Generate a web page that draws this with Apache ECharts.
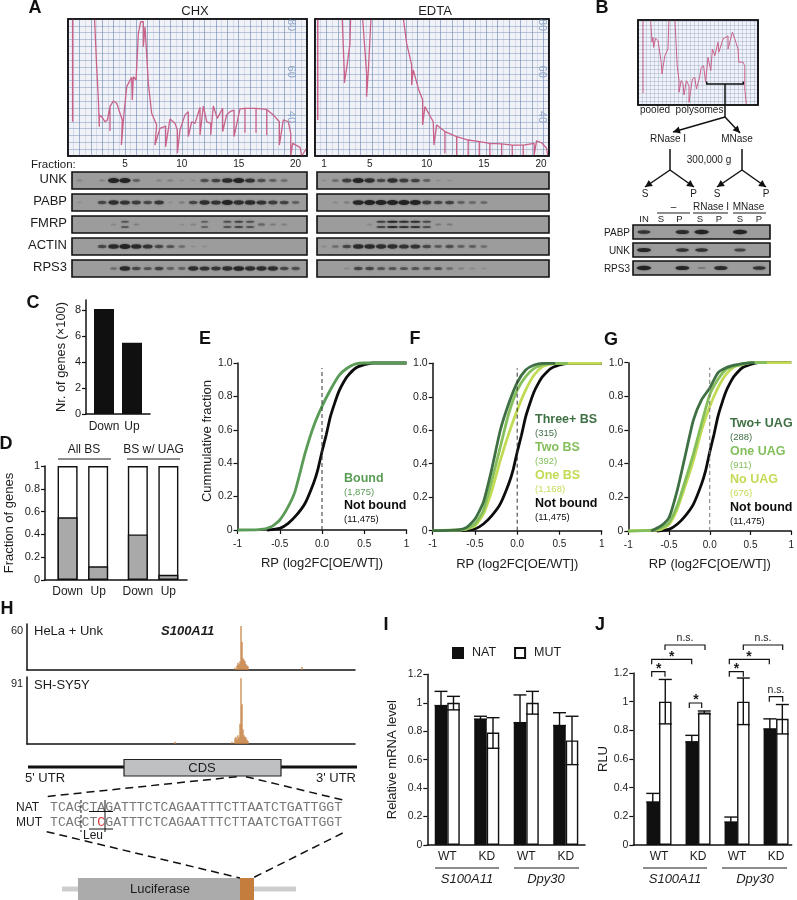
<!DOCTYPE html>
<html><head><meta charset="utf-8">
<style>html,body{margin:0;padding:0;background:#fff}#c{width:797px;height:900px}</style>
<script src="https://cdn.jsdelivr.net/npm/echarts@6/dist/echarts.min.js"></script>
</head><body><div id="c"></div>
<script>
// ---------- DATA ----------
const chxTrace=[[2.28,90],[2.52,63.1],[2.67,48.5],[2.75,36.8],[2.75,42],[2.96,41.2],[3.25,39],[3.46,39.8],[3.69,45.6],[3.69,35],[3.69,45.6],[3.98,48.1],[4.28,47.1],[4.57,42.7],[4.77,39.8],[4.69,28.8],[4.92,42.7],[5.16,54.4],[5.59,58.5],[5.65,48.5],[5.74,58.7],[5.98,57.3],[6.18,77.7],[6.39,82.8],[6.62,82.8],[6.62,71.9],[6.77,80.6],[7.06,55.8],[7.35,42.7],[7.79,37.6],[7.64,28.8],[8.08,36.1],[8.58,37.1],[8.58,28.1],[8.96,40.2],[9.4,38.3],[9.61,35.4],[9.61,25.2],[9.84,35.4],[10.28,42],[10.57,43.4],[10.57,32.5],[10.87,39],[11.16,38.3],[11.6,45.3],[11.6,33.2],[11.89,45.9],[12.19,39],[12.54,38.3],[12.54,33.2],[12.77,45.9],[13.12,40.5],[13.59,44.9],[13.59,34.7],[13.94,42],[14.24,43.4],[14.59,44.1],[14.59,32.5],[15.11,44.6],[15.55,44.9],[15.55,34.2],[15.55,44.9],[16.52,44.9],[16.52,34.2],[16.52,44.9],[17.46,44.4],[17.46,33.2],[17.46,44.4],[18.04,42],[18.57,39],[18.57,28.8],[18.92,39.8],[19.36,39],[19.57,33.9],[19.57,24],[19.74,29.5],[20.39,27.8],[20.53,24],[20.97,27.4]];
const chxFirstSpike=[[0.41,90],[0.41,39]];
const edtaSpike=[[0.24,90],[0.24,39.8]];
const edtaTrace=[[2.34,90],[2.57,60.2],[2.57,56],[2.77,62.4],[3.06,73],[3.15,90],[4.09,90],[4.52,60.2],[4.52,50],[4.67,61],[4.96,90],[7.59,90],[8.03,73.3],[8.47,63.9],[8.47,55.1],[8.61,61.7],[9.05,53.6],[9.43,48.5],[9.43,37.6],[9.63,45.6],[10.36,39],[10.42,28.8],[10.66,37.6],[11.38,34.7],[11.38,25.2],[11.38,34.7],[12.41,32.5],[12.41,24.4],[12.41,32.5],[13.42,31],[13.42,24.4],[13.42,31],[14.39,30.3],[14.39,24.4],[14.39,30.3],[15.32,29.5],[15.32,24.4],[15.32,29.5],[16.35,29.3],[16.35,24.4],[16.35,29.3],[17.28,28.8],[17.28,24.4],[17.28,28.8],[18.24,28.8],[18.24,24.4],[18.24,28.8],[19.2,29.5],[19.2,24.4],[19.41,30.6],[19.85,29.8],[20.29,27.4],[20.4,24]];
const poolSpike=[[1.25,21.5],[1.25,3]];
const poolTrace=[[3.1,22],[3.5,15.7],[3.75,16.9],[3.9,14.4],[4.4,16.7],[5,16.1],[5.8,10.7],[6,7.75],[6.7,12.3],[7.5,14],[7.75,22],[9.2,22],[9.8,9.8],[10.25,6.1],[10.25,3.2],[10.8,6.1],[11.25,5.25],[11.5,2.5],[12.1,6.1],[12.75,4.8],[12.75,0.67],[13.6,6.5],[14.2,6.9],[14.6,4],[15.4,6.9],[15.8,9.4],[16.4,9.8],[16.9,5.7],[17.5,11.9],[18.2,8.6],[18.6,14],[19.2,12.3],[20,15.7],[20.2,13.2],[21.25,16.5],[22.5,17.3],[22.5,14],[23.6,18.2],[24.2,16.5],[25,14],[25.2,10.7],[26.25,10.7],[26.7,9.8],[26.7,4],[27.1,0]];

const chxUnk=[.12,0,.15,1,1,.4,0,.12,.18,.06,.03,.55,.65,.9,1,.8,.55,.4,.3,0];
const chxPabp=[.04,0,.6,.85,.8,.7,.6,.75,.05,.2,.6,.85,.8,1,.85,.9,.8,.7,.65,.4];
const chxFmrp=[0,0,0,.1,.5,.15,0,0,0,.05,.12,.4,0,.55,.65,.55,.35,.2,.15,0];
const chxActin=[0,0,.6,.9,1,.9,.8,.6,.5,.3,.05,.05,0,0,0,0,0,0,0,0];
const chxRps3=[0,0,0,.3,.9,.6,.5,.65,.4,.4,.85,.8,.75,.85,.95,.85,.85,.85,.6,.55];
const edtaUnk=[.05,.3,.7,1,.85,.6,.85,.7,.65,.4,.05,.05,0,0,0,0,0,0,0,0];
const edtaPabp=[0,.1,.2,.95,1,1,1,1,1,.7,.6,.65,.4,.35,.35,0,0,0,0,0];
const edtaFmrp=[0,0,0,0,.1,.7,.95,.85,.85,.6,.2,.2,0,0,0,0,0,0,0,0];
const edtaActin=[.1,.3,.6,.9,.9,.85,.85,.8,.8,.6,.45,.55,.4,.4,.3,0,0,0,0,0];
const edtaRps3=[0,0,.1,.6,.6,.5,.5,.5,.5,.45,.5,.3,.15,.1,.05,0,0,0,0,0];
const fractionLabelsChx=[5,10,15,20];
const fractionLabelsEdta=[1,5,10,15,20];
const blotNames=['UNK','PABP','FMRP','ACTIN','RPS3'];
const poolPabp=[.8,0,.9,1,0,1,0];
const poolUnk=[.95,0,.8,.8,0,.65,0];
const poolRps3=[1,0,.95,.2,.9,0,.8];
const poolLanes=['IN','S','P','S','P','S','P'];

const cCats=['Down','Up'];
const cVals=[8.1,5.5];
const cTicks=[0,2,4,6,8];
const dCats=['Down','Up','Down','Up'];
const dVals=[.55,.12,.40,.045];
const dTotal=[1,1,1,1];

const notBound=[[-.65,0],[-.5,.01],[-.4,.04],[-.3,.09],[-.2,.16],[-.1,.28],[-.05,.36],[0,.47],[.05,.57],[.1,.68],[.15,.76],[.2,.83],[.25,.88],[.3,.92],[.4,.97],[.5,.99],[.6,1],[1,1]];
const bound=[[-1,0],[-.75,.002],[-.6,.02],[-.5,.06],[-.4,.14],[-.32,.23],[-.2,.46],[-.1,.62],[0,.74],[.1,.84],[.2,.925],[.3,.97],[.4,.995],[.5,1],[1,1]];
const threeBS=[[-1,0],[-.7,.005],[-.6,.02],[-.5,.07],[-.4,.17],[-.3,.37],[-.2,.60],[-.1,.76],[0,.885],[.1,.96],[.2,.99],[.3,1],[.45,1]];
const twoBS=[[-1,0],[-.7,.005],[-.6,.01],[-.5,.04],[-.4,.12],[-.3,.30],[-.2,.50],[-.1,.70],[0,.84],[.1,.92],[.2,.97],[.3,.99],[.4,1],[.6,1]];
const oneBS=[[-1,0],[-.7,.005],[-.6,.01],[-.5,.03],[-.4,.10],[-.3,.24],[-.2,.42],[-.1,.58],[0,.72],[.1,.84],[.2,.93],[.3,.98],[.4,.995],[.5,1],[1,1]];
const twoUAG=[[-.72,0],[-.6,.03],[-.5,.08],[-.4,.24],[-.3,.45],[-.2,.66],[-.1,.78],[0,.85],[.1,.94],[.2,.97],[.3,.985],[.4,.995],[.55,1]];
const oneUAG=[[-1,0],[-.7,.005],[-.6,.02],[-.5,.05],[-.4,.15],[-.3,.30],[-.2,.46],[-.1,.64],[0,.81],[.1,.90],[.2,.96],[.3,.98],[.4,.99],[.5,1],[.7,1]];
const noUAG=[[-1,0],[-.7,.005],[-.6,.01],[-.5,.04],[-.4,.13],[-.3,.27],[-.2,.42],[-.1,.60],[0,.74],[.1,.85],[.2,.93],[.3,.975],[.4,.99],[.5,1],[1,1]];
const zeroLine=[[0,0],[0,.97]];

const helaCov=[[208,3],[210,6],[211,10],[212,8],[213,12],[214,60],[215,38],[216,16],[217,14],[218,12],[219,8],[220,6],[221,5],[275,4]];
const shsyCov=[[148,3],[205,3],[208,8],[209,10],[210,6],[211,12],[212,9],[213,28],[214,91],[215,55],[216,20],[217,12],[218,10],[219,9],[220,6],[221,4]];
const seqNatA='TCAGCTAGATTTCTCAGAATTTCTTAATCTGATTGGT';
const seqMutA='TCAGCT', seqMutC='C', seqMutB='GATTTCTCAGAATTTCTTAATCTGATTGGT';

const iCats=['WT','KD','WT','KD'];
const iNat=[.98,.885,.86,.84];
const iMut=[1,.79,1,.735];
const iNatErr=[[.98,1.08],[.885,.905],[.86,1.055],[.84,.93]];
const iMutErr=[[.95,1.045],[.68,.895],[.92,1.08],[.565,.905]];
const jCats=['WT','KD','WT','KD'];
const jNat=[.30,.72,.16,.81];
const jMut=[1,.925,1,.88];
const jNatErr=[[.30,.36],[.72,.765],[.16,.195],[.81,.88]];
const jMutErr=[[.845,1.155],[.915,.935],[.84,1.165],[.775,.98]];

// ---------- HELPERS ----------
const FONT='"Liberation Sans",Arial,sans-serif', INK='#1c1c1c';
const grid=[],xAxis=[],yAxis=[],series=[],graphic=[];
const hidden=(o)=>Object.assign({type:'value',show:false},o);
function addPanel(l,t,r,b,gx,xa,ya){const i=grid.length;
 grid.push(Object.assign({left:l,top:t,width:r-l,height:b-t,containLabel:false},gx||{}));
 xAxis.push(Object.assign({gridIndex:i},xa));yAxis.push(Object.assign({gridIndex:i,nameMoveOverlap:false},ya));return i;}
function T(x,y,text,o){o=o||{};graphic.push({type:'text',x,y,z:100,rotation:o.rot||0,style:{text,fill:o.fill||INK,font:(o.style||'')+' '+(o.weight||'')+' '+(o.size||11)+'px '+(o.family||FONT),align:o.align||'center',verticalAlign:'middle',rich:o.rich}});}
function L(pts,o){o=o||{};graphic.push({type:'polyline',z:100,shape:{points:pts},style:{stroke:o.stroke||INK,lineWidth:o.w||1.2,fill:null,lineDash:o.dash||null}});}
function R(x,y,w,h,fill,o){o=o||{};graphic.push({type:'rect',z:o.z||99,shape:{x,y,width:w,height:h},style:{fill,stroke:o.stroke||null,lineWidth:o.w||0}});}
function arrow(x0,y0,x1,y1){L([[x0,y0],[x1,y1]],{w:1.5,stroke:'#111'});const a=Math.atan2(y1-y0,x1-x0),s=7,h=3.6;
 graphic.push({type:'polygon',z:100,shape:{points:[[x1,y1],[x1-s*Math.cos(a)+h*Math.sin(a),y1-s*Math.sin(a)-h*Math.cos(a)],[x1-s*Math.cos(a)-h*Math.sin(a),y1-s*Math.sin(a)+h*Math.cos(a)]]},style:{fill:'#111'}});}
const axLine={onZero:false,lineStyle:{color:'#111',width:1.5}};
const tick={show:true,length:4,inside:false,lineStyle:{color:'#111',width:1.2}};
const lab=(s,m)=>({color:INK,fontSize:s||10,fontFamily:FONT,margin:m||5});
const nameTxt=(s)=>({color:INK,fontSize:s||12.5,fontFamily:FONT});

// paper charts
function paper(l,t,r,b,xMax,yMin,yMax,fine){
 const maj=fine?'rgba(115,140,185,.3)':'rgba(105,130,175,.6)',min=fine?'rgba(110,140,190,.2)':'rgba(130,150,190,.25)';
 const i=addPanel(l,t,r,b,{show:true,backgroundColor:'#f0f2f7',borderColor:'#111',borderWidth:1.6},
  {type:'value',min:0,max:xMax,interval:1,axisLine:{show:false},axisTick:{show:false},axisLabel:{show:false},minorTick:{show:!fine,splitNumber:2,length:0},splitLine:{show:true,lineStyle:{color:maj,width:1}},minorSplitLine:{show:!fine,lineStyle:{color:min,width:1}}},
  {type:'value',min:yMin,max:yMax,interval:fine?1:3,axisLine:{show:false},axisTick:{show:false},axisLabel:{show:false},splitLine:{show:true,lineStyle:{color:fine?maj:'rgba(105,130,175,.42)',width:1}}});
 R(l,t,r-l,b-t,null,{stroke:'#111',w:1.6,z:98});
 return i;
}
function trace(i,d,w){series.push({type:'line',xAxisIndex:i,yAxisIndex:i,data:d,symbol:'none',lineStyle:{color:'#c9628a',width:w||1.3},clip:true,silent:true,z:3});}
let p=paper(68,19,307,156,21,24,84,false);trace(p,chxTrace);trace(p,chxFirstSpike,1.5);
p=paper(315,19,549,156,20.5,24,84,false);trace(p,edtaTrace);trace(p,edtaSpike,1.5);
p=paper(638,20,758,105,30,0,21.25,true);trace(p,poolTrace,1);trace(p,poolSpike,1);
[[290.7,25,'80'],[290.7,71.7,'60'],[290.7,117,'40'],[541.7,25,'80'],[541.7,71.7,'60'],[541.7,117,'40']].forEach(a=>T(a[0],a[1],a[2],{rot:-Math.PI/2,fill:'#8ea6c8',size:11}));

// blots
function blot(l,t,r,b,xMin,xMax,vals,o){o=o||{};
 const xa=o.labels?{type:'value',position:'top',min:xMin,max:xMax,axisLine:{show:false},axisTick:{show:false},splitLine:{show:false},
   axisLabel:{color:INK,fontSize:10,fontFamily:FONT,margin:3,customValues:o.labels,showMinLabel:true,showMaxLabel:true}}:hidden({min:xMin,max:xMax});
 const i=addPanel(l,t,r,b,{show:true,backgroundColor:'#9c9c9c',borderColor:'#111',borderWidth:1.6},xa,hidden({min:0,max:1,splitLine:{show:false}}));
 const k=o.scale||1,data=[];
 vals.forEach((v,n)=>{if(!v)return;
   const rows=o.double&&v>.35?[.36,.66]:[.5];
   rows.forEach(y=>data.push({value:[n+1,y],symbolSize:[(5+6*v)*k,(rows.length>1?2:(1.4+3.4*v))*(o.hk||1)],itemStyle:{opacity:Math.min(1,.08+.9*Math.pow(v,1.2))}}));});
 series.push({type:'scatter',xAxisIndex:i,yAxisIndex:i,data,symbol:'circle',silent:true,z:3,itemStyle:{color:'#222',shadowBlur:2,shadowColor:'rgba(30,30,30,.6)'}});
}
const rowsY=[[172,189],[194,211],[216,233],[238,255],[260,277]];
[chxUnk,chxPabp,chxFmrp,chxActin,chxRps3].forEach((v,n)=>blot(72,rowsY[n][0],307,rowsY[n][1],.35,21,v,{labels:n==0?fractionLabelsChx:null,double:n==2}));
[edtaUnk,edtaPabp,edtaFmrp,edtaActin,edtaRps3].forEach((v,n)=>blot(317,rowsY[n][0],549,rowsY[n][1],.39,20.7,v,{labels:n==0?fractionLabelsEdta:null,double:n==2}));
blotNames.forEach((s,n)=>T(67,(rowsY[n][0]+rowsY[n][1])/2-1,s,{align:'right',size:13}));
T(31,165,'Fraction:',{align:'left',size:11.5});
T(195,11,'CHX',{size:13});T(435,11,'EDTA',{size:13});
[[poolPabp,225,239],[poolUnk,243,257],[poolRps3,261,275]].forEach(a=>blot(633,a[1],770,a[2],.43,7.56,a[0],{scale:1.3,hk:.9}));
[['PABP',233],['UNK',251],['RPS3',269.5]].forEach(a=>T(630,a[1],a[0],{align:'right',size:10}));
poolLanes.forEach((s,n)=>T([644,661,679.5,700,719,740,759][n],219.5,s,{size:9.5}));
T(673.5,207,'–',{size:10});T(711,207,'RNase I',{size:10});T(748.5,207,'MNase',{size:10});
L([[657,213],[690,213]]);L([[693,213],[728,213]]);L([[733,213],[766,213]]);
T(640,110.5,'pooled  polysomes',{align:'left',size:10});
L([[706.7,81.5],[706.7,84],[743.3,84],[743.3,81.5]],{w:1.5,stroke:'#111'});
L([[725,84],[725,117]],{w:1.5,stroke:'#111'});
arrow(725,117,673,132);arrow(725,117,740,133);
T(668,139.5,'RNase I',{size:10});T(737,139.5,'MNase',{size:10});T(709,160,'300,000 g',{size:10});
[[670,645,694],[742,717,766]].forEach(a=>{L([[a[0],149],[a[0],170]],{w:1.5,stroke:'#111'});arrow(a[0],170,a[1],187);arrow(a[0],170,a[2],187);});
[[645,'S'],[693.5,'P'],[717,'S'],[766,'P']].forEach(a=>T(a[0],194.5,a[1],{size:10}));

// C
const iC=addPanel(86,300,150,414,null,
 {type:'value',min:-.643,max:1.643,axisLine:{...axLine},axisTick:{show:false},splitLine:{show:false},axisLabel:{...lab(12,7),customValues:[0,1],formatter:v=>cCats[v]}},
 {type:'value',min:0,max:8.8,axisLine:{...axLine},axisTick:{...tick,customValues:cTicks},splitLine:{show:false},axisLabel:{...lab(11),customValues:cTicks},name:'Nr. of genes (×100)',nameLocation:'middle',nameGap:18,nameTextStyle:nameTxt(12.8)});
series.push({type:'bar',xAxisIndex:iC,yAxisIndex:iC,barWidth:20,data:cVals.map((v,n)=>[n,v]),itemStyle:{color:'#101010'},silent:true});

// D
const dSlots=[0,1,2.3,3.3];
const iD=addPanel(45,466,187,580,null,
 {type:'value',min:-.74,max:3.91,axisLine:{...axLine},axisTick:{show:false},splitLine:{show:false},axisLabel:{...lab(12,6),customValues:dSlots,formatter:v=>dCats[dSlots.indexOf(v)]}},
 {type:'value',min:0,max:1,interval:.2,axisLine:{...axLine},axisTick:tick,splitLine:{show:false},axisLabel:lab(11),name:'Fraction of genes',nameLocation:'middle',nameGap:29.5,nameTextStyle:nameTxt(13)});
const bord={borderColor:'#111',borderWidth:1.4};
series.push({type:'bar',xAxisIndex:iD,yAxisIndex:iD,barGap:'-100%',barWidth:20,data:dTotal.map((v,n)=>[dSlots[n],v]),itemStyle:{color:'#fff',...bord},silent:true});
series.push({type:'bar',xAxisIndex:iD,yAxisIndex:iD,barGap:'-100%',barWidth:20,data:dVals.map((v,n)=>[dSlots[n],v]),itemStyle:{color:'#a9a9a9',...bord},silent:true});
T(84,450,'All BS',{size:12});T(153.5,450,'BS w/ UAG',{size:12});
L([[58,459],[111,459]]);L([[127,459],[180,459]]);

// E F G
function cdf(l,r,t,b,lines,dash){
 const i=addPanel(l,t,r,b,null,
  {type:'value',nameMoveOverlap:false,min:-1,max:1,interval:.5,axisLine:{...axLine},axisTick:tick,splitLine:{show:false},axisLabel:{...lab(10,9),formatter:v=>v==0?'0.0':String(v)},name:'RP (log2FC[OE/WT])',nameLocation:'middle',nameGap:27,nameTextStyle:nameTxt(13)},
  {type:'value',min:0,max:1,interval:.2,axisLine:{...axLine},axisTick:tick,splitLine:{show:false},axisLabel:{...lab(10.5),formatter:v=>v==0?'0':v.toFixed(1)}});
 lines.forEach(a=>series.push({type:'line',xAxisIndex:i,yAxisIndex:i,data:a[0],symbol:'none',smooth:.2,clip:false,silent:true,lineStyle:{color:a[1],width:2.8}}));
 series.push({type:'line',xAxisIndex:i,yAxisIndex:i,data:zeroLine,symbol:'none',clip:false,silent:true,z:4,lineStyle:{color:dash||'#333',width:1,type:[4,3]}});
}
const cBound='#5a9c57',c3='#3f7044',c2='#84bf5c',c1='#c2db55',cK='#0c0c0c';
cdf(237.5,406.5,363,530,[[notBound,cK],[bound,cBound]]);
cdf(432.7,601.7,363.3,530.7,[[notBound,cK],[oneBS,c1],[twoBS,c2],[threeBS,c3]]);
cdf(628.3,796.7,362.7,531,[[notBound,cK],[noUAG,c1],[oneUAG,c2],[twoUAG,c3]],'#777');
T(207,441,'Cummulative fraction',{rot:Math.PI/2,size:13});
function legendBlock(x,items){items.forEach(a=>{T(x,a[0],a[1],{align:'left',weight:'bold',size:12.5,fill:a[3]});T(x,a[0]+13,a[2],{align:'left',size:9.5,fill:a[3]});});}
legendBlock(344,[[479,'Bound','(1,875)',cBound],[506,'Not bound','(11,475)',cK]]);
legendBlock(535,[[420,'Three+ BS','(315)',c3],[448,'Two BS','(392)',c2],[476,'One BS','(1,168)',c1],[504,'Not bound','(11,475)',cK]]);
legendBlock(730,[[424,'Two+ UAG','(288)',c3],[452,'One UAG','(911)',c2],[480,'No UAG','(676)',c1],[508,'Not bound','(11,475)',cK]]);

// H
function track(t,b,yMax,d){const i=addPanel(27,t,355,b,null,
 {type:'value',min:0,max:328,axisLine:{...axLine},axisTick:{show:false},axisLabel:{show:false},splitLine:{show:false}},
 {type:'value',min:0,max:yMax,axisLine:{...axLine},axisTick:{show:false},axisLabel:{show:false},splitLine:{show:false}});
 series.push({type:'bar',xAxisIndex:i,yAxisIndex:i,data:d,barWidth:1.2,itemStyle:{color:'#c47d3c'},silent:true});}
track(624,670,62.7,helaCov);track(677,744,92.8,shsyCov);
T(17,631,'60',{size:11});T(34,631,'HeLa + Unk',{align:'left',size:13});T(161,631,'S100A11',{align:'left',size:13,weight:'bold',style:'italic'});
T(17,684,'91',{size:11});T(34,685,'SH-SY5Y',{align:'left',size:13});
R(28,765.5,329,3,'#111');
R(124,759.5,157,16.5,'#bfc0c2',{stroke:'#222',w:1.2,z:100});
T(202,768,'CDS',{size:13});T(25,778.5,"5' UTR",{align:'left',size:13});T(356,778.5,"3' UTR",{align:'right',size:13});
const dsh={w:1.5,dash:[8,5],stroke:'#111'};
L([[236.7,776.7],[45,796.7]],dsh);L([[246,776.7],[343,800]],dsh);L([[46.7,831.7],[240,878]],dsh);L([[342.7,833],[252.7,878]],dsh);
const mono='"Liberation Mono",monospace';
T(16,807.5,'NAT',{align:'left',size:12});T(16,823,'MUT',{align:'left',size:12});
T(50,807.5,seqNatA,{align:'left',size:13.17,family:mono,fill:'#777'});
T(50,823,'{a|'+seqMutA+'}{r|'+seqMutC+'}{a|'+seqMutB+'}',{align:'left',size:13.17,family:mono,fill:'#777',rich:{a:{fill:'#777',font:'13.17px '+mono},r:{fill:'#d8343a',font:'13.17px '+mono}}});
L([[81,800],[81,832]],{w:1,dash:[3,2],stroke:'#111'});L([[105,800],[105,832]],{w:1,stroke:'#111'});
L([[89,811.5],[113,811.5]],{w:1,stroke:'#111'});L([[89,829],[113,829]],{w:1,stroke:'#111'});
T(93,835.5,'Leu',{size:12});
R(62,886.5,234,5,'#cdcdcd');R(78,878,162,22,'#ababab');R(240,878,14,22,'#c47d3c');
T(160,889,'Luciferase',{size:13});

// I J
function bars(l,r,t,b,xMin,xMax,cats,nat,mut,natE,mutE,yName,gap){
 const slots=cats.map((c,n)=>n);
 const i=addPanel(l,t,r,b,null,
  {type:'value',min:xMin,max:xMax,axisLine:{...axLine},axisTick:{show:false},splitLine:{show:false},axisLabel:{...lab(12,6),customValues:slots,formatter:v=>cats[v]}},
  {type:'value',min:0,max:1.2,interval:.2,axisLine:{...axLine},axisTick:tick,splitLine:{show:false},axisLabel:lab(10.5),name:yName,nameLocation:'middle',nameGap:gap,nameTextStyle:nameTxt(13)});
 const w=12.5;
 series.push({name:'NAT',type:'bar',xAxisIndex:i,yAxisIndex:i,barWidth:w,barGap:0,data:nat.map((v,n)=>[n,v]),itemStyle:{color:'#101010',borderColor:'#101010',borderWidth:1.4},silent:true});
 series.push({name:'MUT',type:'bar',xAxisIndex:i,yAxisIndex:i,barWidth:w,barGap:0,data:mut.map((v,n)=>[n,v]),itemStyle:{color:'#fff',borderColor:'#101010',borderWidth:1.4},silent:true});
 const err=(e,off)=>({type:'custom',xAxisIndex:i,yAxisIndex:i,silent:true,z:5,clip:false,data:e.map((a,n)=>[n,a[0],a[1]]),encode:{x:0,y:[1,2]},
  renderItem:(pr,api)=>{const lo=api.coord([api.value(0),api.value(1)]),hi=api.coord([api.value(0),api.value(2)]),x=lo[0]+off,c=6.5;
   const st={stroke:'#101010',lineWidth:1.4,fill:null};
   return {type:'group',children:[{type:'line',shape:{x1:x,y1:lo[1],x2:x,y2:hi[1]},style:st},{type:'line',shape:{x1:x-c,y1:hi[1],x2:x+c,y2:hi[1]},style:st},{type:'line',shape:{x1:x-c,y1:lo[1],x2:x+c,y2:lo[1]},style:st}]};}});
 series.push(err(natE,-w/2));series.push(err(mutE,w/2));
}
bars(427.3,585,674.3,845,-.505,3.487,iCats,iNat,iMut,iNatErr,iMutErr,'Relative mRNA level',28.6);
bars(633.3,791.7,673,845,-.659,3.40,jCats,jNat,jMut,jNatErr,jMutErr,'RLU',23);
[[435,499,467,'S100A11'],[514,579,546,'Dpy30'],[643,707,675,'S100A11'],[722,787,755,'Dpy30']].forEach(a=>{L([[a[0],868],[a[1],868]],{w:1.1});T(a[2],879,a[3],{style:'italic',size:13});});
function brk(x0,x1,y,lbl,lx,ly){L([[x0,y+5],[x0,y],[x1,y],[x1,y+5]],{w:1.2,stroke:'#111'});
 if(lbl=='*')T(lx,ly+3,'*',{weight:'bold',size:14});else T(lx,ly,lbl,{size:10.5});}
brk(651.7,665,671.7,'*',658.7,666);brk(651.7,691.7,659.3,'*',671.7,654);brk(665,705,645,'n.s.',685,638.5);
brk(689.3,701.7,703,'*',696,697);
brk(729.3,743.3,671.7,'*',736.5,666);brk(729.3,769.3,659.3,'*',749,654);brk(743.3,782.7,645,'n.s.',763,638.5);
brk(769.3,782.7,696.7,'n.s.',776,690);

// panel letters
[['A',35,8],['B',602,8],['C',33,303],['D',6,444],['E',205,339],['F',415,339],['G',611,340],['H',7,609],['I',386,625],['J',600,625]].forEach(a=>T(a[1],a[2],a[0],{weight:'bold',size:18,fill:'#111'}));

const chart=echarts.init(document.getElementById('c'),null,{renderer:'canvas'});
chart.setOption({animation:false,backgroundColor:'#fff',textStyle:{fontFamily:FONT},
 legend:{data:['NAT','MUT'],left:452,top:646.5,padding:0,itemWidth:10,itemHeight:10,itemGap:18,icon:'rect',textStyle:{fontSize:12.5,color:INK,fontFamily:FONT,padding:[0,0,0,4]},selectedMode:false},
 grid,xAxis,yAxis,series,graphic:{elements:graphic}});
</script></body></html>
